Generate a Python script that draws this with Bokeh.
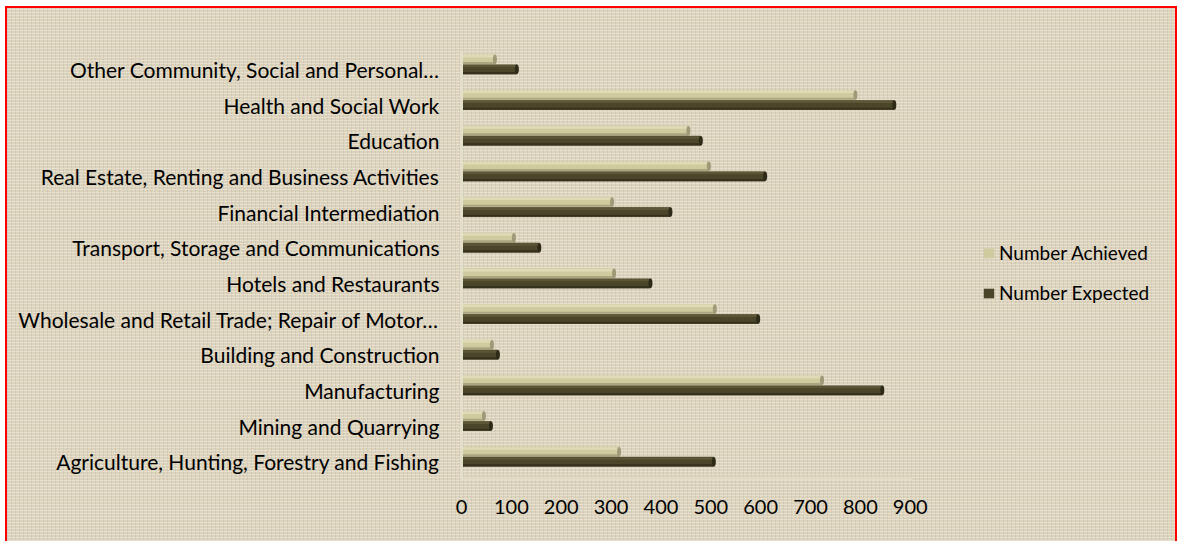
from bokeh.plotting import figure
from bokeh.models import FactorRange, Range1d, Legend, LegendItem, ColumnDataSource, FixedTicker
from bokeh.transform import dodge
from bokeh.embed import file_html
from bokeh.resources import INLINE

categories = [
    "Agriculture, Hunting, Forestry and Fishing",
    "Mining and Quarrying",
    "Manufacturing",
    "Building and Construction",
    "Wholesale and Retail Trade; Repair of Motor…",
    "Hotels and Restaurants",
    "Transport, Storage and Communications",
    "Financial Intermediation",
    "Real Estate, Renting and Business Activities",
    "Education",
    "Health and Social Work",
    "Other Community, Social and Personal…",
]
achieved = [316, 45, 723, 61, 508, 306, 105, 302, 496, 455, 790, 67]
expected = [506, 59, 844, 73, 595, 379, 156, 419, 609, 480, 868, 111]
x_ticks = [0, 100, 200, 300, 400, 500, 600, 700, 800, 900]

BG = "#dcd3bd"
FONT = "Lato"

src = ColumnDataSource(dict(cat=categories, achieved=achieved, expected=expected))

p = figure(width=1168, height=533, y_range=FactorRange(*categories),
           x_range=Range1d(0, 1440), output_backend="svg", toolbar_location=None,
           min_border_left=454, min_border_right=0, min_border_top=43, min_border_bottom=64)
p.background_fill_alpha = 0
p.border_fill_alpha = 0
p.outline_line_color = None
p.grid.visible = False
p.styles = {"border-left": "2px solid #ff0000", "border-right": "2px solid #ff0000",
            "border-top": "2px solid #ff0000", "box-sizing": "content-box",
            "margin-left": "5px", "margin-top": "6px",
            "background-color": BG,
            "background-image": ("repeating-linear-gradient(0deg, rgba(246,240,224,0.45) 0px, "
                                 "rgba(246,240,224,0.45) 1px, rgba(0,0,0,0) 1px, rgba(0,0,0,0) 3px), "
                                 "repeating-linear-gradient(90deg, rgba(150,140,150,0.18) 0px, "
                                 "rgba(150,140,150,0.18) 1px, rgba(0,0,0,0) 1px, rgba(0,0,0,0) 4px)")}

H = 0.27
A_OFF = 0.28
E_OFF = 0.0

def bar3d(field, off, main, hi, lo, cap):
    r = p.hbar(y=dodge("cat", off, range=p.y_range), left=0, right=field, height=H,
               source=src, fill_color=main, line_color=None)
    p.hbar(y=dodge("cat", off + H / 2 - 0.045, range=p.y_range), left=0, right=field,
           height=0.07, source=src, fill_color=hi, line_color=None)
    p.hbar(y=dodge("cat", off - H / 2 + 0.03, range=p.y_range), left=0, right=field,
           height=0.06, source=src, fill_color=lo, line_color=None)
    p.ellipse(x=field, y=dodge("cat", off, range=p.y_range), width=4, height=9.5,
              width_units="screen", height_units="screen", source=src,
              fill_color=cap, line_color=None)
    return r

r_a = bar3d("achieved", A_OFF, "#cfcb9f", "#dedbb6", "#aaa67f", "#9e9a78")
r_e = bar3d("expected", E_OFF, "#4b4529", "#5c5536", "#36311c", "#2e2a18")

xa = p.xaxis[0]
xa.ticker = FixedTicker(ticks=x_ticks)
xa.bounds = (0, 905)
xa.major_tick_line_color = None
xa.minor_tick_line_color = None
xa.axis_line_color = "#e4dfc8"
xa.axis_line_width = 2
xa.major_label_standoff = 14
xa.major_label_text_font = FONT
xa.major_label_text_font_size = "20px"
xa.major_label_text_color = "#000000"

ya = p.yaxis[0]
ya.major_tick_line_color = None
ya.minor_tick_line_color = None
ya.axis_line_color = "#e4dfc8"
ya.axis_line_width = 3
ya.major_label_standoff = 16
ya.major_label_text_font = FONT
ya.major_label_text_font_size = "21px"
ya.major_label_text_color = "#000000"

legend = Legend(items=[LegendItem(label="Number Achieved", renderers=[r_a]),
                       LegendItem(label="Number Expected", renderers=[r_e])],
                location=(521, 175))
legend.background_fill_alpha = 0
legend.border_line_color = None
legend.label_text_font = FONT
legend.label_text_font_size = "19px"
legend.label_text_color = "#000000"
legend.glyph_width = 13
legend.glyph_height = 12
legend.label_standoff = 4
legend.label_height = 20
legend.spacing = 17
legend.padding = 0
legend.margin = 0
p.add_layout(legend)

open("out.html", "w").write(file_html(p, INLINE))
